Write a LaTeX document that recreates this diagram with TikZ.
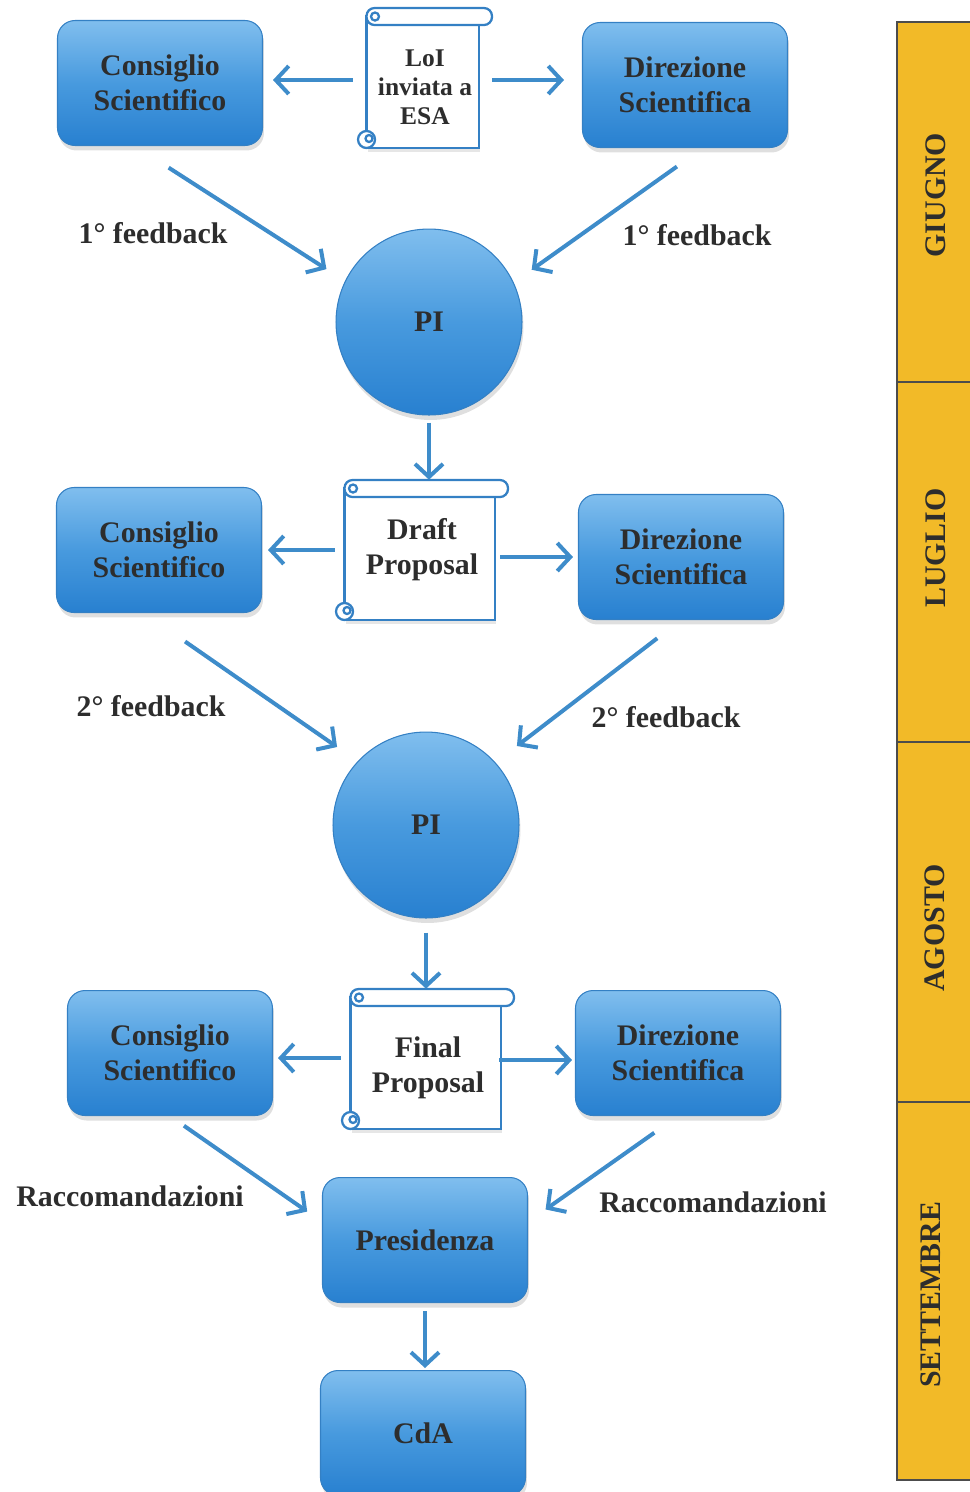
\documentclass[tikz,border=0pt]{standalone}
\usepackage{fontspec}
\setmainfont{Liberation Serif}
\usetikzlibrary{arrows.meta,calc,shadows,backgrounds}

\definecolor{boxtop}{RGB}{128,190,238}
\definecolor{boxmid}{RGB}{72,154,222}
\definecolor{boxbot}{RGB}{40,128,208}
\definecolor{boxedge}{RGB}{52,128,196}
\definecolor{flowblue}{RGB}{62,140,202}
\definecolor{amber}{RGB}{242,186,40}
\definecolor{ink}{RGB}{45,45,45}

\newcommand{\boxfont}{\bfseries\fontsize{17}{20}\selectfont}
\newcommand{\loifont}{\bfseries\fontsize{14.5}{16.5}\selectfont}

% scroll outline round a text node: name, width, height (cm), lift of the frame (cm)
\newcommand{\scrollframe}[4]{%
  \begin{scope}[shift={(#1.center)}, shift={(-#2cm/2,-#3cm/2+#4cm)}, scrolline]
    \filldraw[fill=white, drop shadow={opacity=0.2, shadow xshift=0.03cm, shadow yshift=-0.08cm}]
      (0.17cm,0cm) rectangle (#2cm-0.26cm,#3cm-0.17cm);
    \filldraw[fill=white, rounded corners=0.16cm] (0.17cm,#3cm-0.34cm) rectangle (#2cm,#3cm);
    \draw (0.34cm,#3cm-0.17cm) circle (0.08cm);
    \filldraw[fill=white] (0.17cm,0.17cm) circle (0.17cm);
    \draw (0.22cm,0.19cm) circle (0.07cm);
  \end{scope}}

\tikzset{
  blockbox/.style={rectangle, rounded corners=0.35cm, draw=boxedge, line width=0.6pt,
    top color=boxtop, bottom color=boxbot, middle color=boxmid,
    minimum width=4.1cm, minimum height=2.5cm, align=center, text=ink, font=\boxfont,
    drop shadow={opacity=0.25, shadow xshift=0.03cm, shadow yshift=-0.1cm}},
  pibox/.style={circle, draw=boxedge, line width=0.6pt,
    top color=boxtop, bottom color=boxbot, middle color=boxmid,
    minimum size=3.72cm, text=ink, font=\boxfont,
    drop shadow={opacity=0.25, shadow xshift=0.03cm, shadow yshift=-0.1cm}},
  scrolltext/.style={align=center, inner sep=0pt, text=ink, font=\boxfont,
    minimum width=3.44cm, minimum height=2.8cm},
  scrolline/.style={draw=boxedge, line width=1.3pt},
  flow/.style={draw=flowblue, line width=0.08cm,
    -{Straight Barb[length=0.26cm,width=0.56cm]}},
  note/.style={text=ink, font=\boxfont},
  month/.style={rotate=90, text=ink, font=\boxfont},
}

\begin{document}
\begin{tikzpicture}[x=0.02cm, y=-0.02cm]
  \useasboundingbox (0,0) rectangle (970,1492);

  % ---- months ----
  \draw[draw=ink!85, line width=0.8pt, fill=amber] (897,22) rectangle (990,1480);
  \draw[ink!85, line width=0.8pt] (897,382) -- (990,382) (897,742) -- (990,742)
    (897,1102) -- (990,1102);
  \node[month] (giugno) at (936,195) {GIUGNO};
  \node[month] (luglio) at (936,548) {LUGLIO};
  \node[month] (agosto) at (935,928) {AGOSTO};
  \node[month] (settembre) at (931,1295) {SETTEMBRE};

  % ---- LoI ----
  \node[blockbox] (cs1) at (160,83) {Consiglio\\Scientifico};
  \node[blockbox] (ds1) at (685,85) {Direzione\\Scientifica};
  \node[scrolltext, font=\loifont, minimum width=2.68cm] (lo) at (425,87) {LoI\\inviata a\\ESA};
  \node[pibox] (pi1) at (429,322) {PI};
  \node[note] (fb1l) at (153,233) {1° feedback};
  \node[note] (fb1r) at (697,235) {1° feedback};

  % ---- draft ----
  \node[blockbox] (cs2) at (159,550) {Consiglio\\Scientifico};
  \node[blockbox] (ds2) at (681,557) {Direzione\\Scientifica};
  \node[scrolltext] (dp) at (422,550) {Draft\\Proposal};
  \node[pibox] (pi2) at (426,825) {PI};
  \node[note] (fb2l) at (151,706) {2° feedback};
  \node[note] (fb2r) at (666,717) {2° feedback};

  % ---- final ----
  \node[blockbox] (cs3) at (170,1053) {Consiglio\\Scientifico};
  \node[blockbox] (ds3) at (678,1053) {Direzione\\Scientifica};
  \node[scrolltext] (fp) at (428,1068) {Final\\Proposal};
  \node[blockbox] (pr) at (425,1240) {Presidenza};
  \node[blockbox] (cda) at (423,1433) {CdA};
  \node[note] (rcl) at (130,1196) {Raccomandazioni};
  \node[note] (rcr) at (713,1202) {Raccomandazioni};

  \begin{scope}[on background layer]
    \scrollframe{lo}{2.68}{2.8}{0.18}
    \scrollframe{dp}{3.44}{2.8}{0}
    \scrollframe{fp}{3.44}{2.8}{0.18}
  \end{scope}

  % ---- arrows ----
  \draw[flow, shorten <=0.1cm, shorten >=0.2cm] ([yshift=0.14cm]lo.west) -- ([yshift=0.14cm]lo.west -| cs1.east);
  \draw[flow, shorten >=0.36cm] ([yshift=0.14cm]lo.east) -- ([yshift=0.14cm]lo.east -| ds1.west);
  \draw[flow, shorten <=0.8cm, shorten >=0.44cm] ($(cs1.south)+(-25,0)$) -- (pi1.154);
  \draw[flow, shorten <=0.64cm, shorten >=0.44cm] ($(ds1.south)+(18,0)$) -- (pi1.25);
  \draw[flow, shorten <=0.14cm] (pi1.south) -- (pi1.south |- dp.north);

  \draw[flow, shorten <=0.02cm, shorten >=0.12cm] (dp.west) -- (dp.west -| cs2.east);
  \draw[flow, shorten <=-0.16cm, shorten >=0.1cm] (dp.east |- ds2.west) -- (ds2.west);
  \draw[flow, shorten <=1cm, shorten >=0.5cm] ($(cs2.south)+(-15,0)$) -- (pi2.137);
  \draw[flow, shorten <=0.6cm, shorten >=0.54cm] (ds2.south) -- (pi2.42);
  \draw[flow, shorten <=0.28cm, shorten >=0.18cm] (pi2.south) -- (pi2.south |- fp.north);

  \draw[flow, shorten <=0.02cm, shorten >=0.1cm] ([yshift=0.2cm]fp.west) -- ([yshift=0.2cm]fp.west -| cs3.east);
  \draw[flow, shorten <=-0.3cm, shorten >=0.06cm] ([yshift=0.16cm]fp.east) -- ([yshift=0.16cm]fp.east -| ds3.west);
  \draw[flow, shorten <=0.34cm, shorten >=0.36cm] (cs3.south) -- (pr.170);
  \draw[flow, shorten <=0.58cm, shorten >=0.43cm] (ds3.south) -- (pr.10);
  \draw[flow, shorten <=0.16cm, shorten >=0.04cm] (pr.south) -- (pr.south |- cda.north);
\end{tikzpicture}
\end{document}
